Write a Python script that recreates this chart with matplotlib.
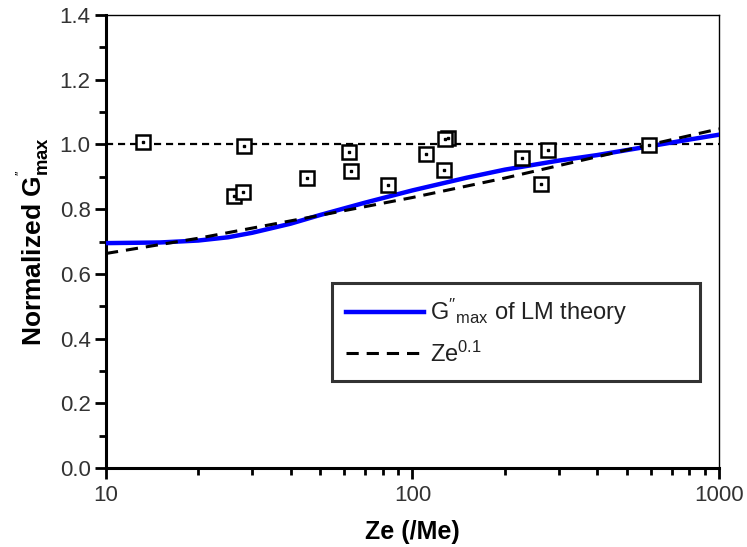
import matplotlib
matplotlib.use("Agg")
import matplotlib.pyplot as plt
from matplotlib.ticker import MultipleLocator, LogLocator, NullFormatter, FixedLocator, FixedFormatter

plt.rcParams['font.family'] = ['Liberation Sans', 'DejaVu Sans']
plt.rcParams['mathtext.fontset'] = 'custom'
plt.rcParams['mathtext.rm'] = 'Liberation Sans'
plt.rcParams['mathtext.it'] = 'Liberation Sans'
plt.rcParams['mathtext.bf'] = 'Liberation Sans:bold'

# Experimental data (squares)
data_x = [13.2, 26.2, 28.0, 28.2, 45.3, 62.1, 63.2, 83.0, 111, 131, 128, 127, 227, 262, 277, 593]
data_y = [1.008, 0.840, 0.854, 0.995, 0.895, 0.977, 0.919, 0.875, 0.970, 1.020, 1.017, 0.921, 0.959, 0.877, 0.983, 0.998]

# LM theory curve (blue)
lm_x = [10, 15, 20, 25, 30, 40, 50, 70, 100, 150, 200, 300, 400, 600, 800, 1000]
lm_y = [0.695, 0.697, 0.703, 0.713, 0.727, 0.755, 0.782, 0.820, 0.858, 0.897, 0.922, 0.950, 0.967, 0.995, 1.015, 1.030]

# Ze^0.1 curve (dashed)
ze_x = [10, 20, 50, 100, 200, 500, 1000]
ze_y = [0.663, 0.710, 0.781, 0.836, 0.896, 0.983, 1.048]

# Reference line
ref_x = [10, 1000]
ref_y = [1.0, 1.0]

fig = plt.figure(figsize=(7.47, 5.47), dpi=100)
ax = fig.add_axes([0.1419, 0.1444, 0.8206, 0.8282])

ax.plot(ref_x, ref_y, color='black', lw=1.6, ls=(0, (3.2, 2.2)), zorder=2)
ax.plot(lm_x, lm_y, color='#0000ff', lw=3.2, zorder=3,
        label=r"G$''_{\mathrm{max}}$ of LM theory")
ax.plot(ze_x, ze_y, color='black', lw=2.2, ls=(0, (4.0, 2.6)), zorder=4,
        label=r"Ze$^{0.1}$")
ax.plot(data_x, data_y, ls='none', marker='s', markersize=9.5, markerfacecolor='white',
        markeredgecolor='black', markeredgewidth=1.8, zorder=5)
ax.plot(data_x, data_y, ls='none', marker='s', markersize=1.8, color='black', zorder=6)

ax.set_xscale('log')
ax.set_xlim(10, 1000)
ax.set_ylim(0, 1.4)

ax.xaxis.set_major_locator(FixedLocator([10, 100, 1000]))
ax.xaxis.set_major_formatter(FixedFormatter(['10', '100', '1000']))
ax.xaxis.set_minor_locator(LogLocator(base=10, subs=range(2, 10)))
ax.xaxis.set_minor_formatter(NullFormatter())
ax.yaxis.set_major_locator(MultipleLocator(0.2))
ax.yaxis.set_minor_locator(MultipleLocator(0.1))
ax.yaxis.set_major_formatter(matplotlib.ticker.FuncFormatter(lambda v, p: f"{v:.1f}"))

ax.tick_params(axis='both', which='major', direction='out', length=8, width=2.0,
               labelsize=16, labelcolor='#333333', top=False, right=False)
ax.tick_params(axis='both', which='minor', direction='out', length=5, width=2.0,
               top=False, right=False)
ax.tick_params(axis='x', which='major', pad=4)
ax.tick_params(axis='y', which='major', pad=3)

for s in ['left', 'bottom']:
    ax.spines[s].set_linewidth(2.2)
for s in ['top', 'right']:
    ax.spines[s].set_linewidth(1.0)

ax.set_xlabel('Ze (/Me)', fontsize=18, fontweight='bold', labelpad=10)
ax.set_ylabel(r"Normalized G$^{''}_{\mathbf{max}}$", fontsize=19, fontweight='bold', labelpad=6)

leg = ax.legend(loc='upper left', bbox_to_anchor=(0.369, 0.199, 0.600, 0.210),
                mode='expand', borderaxespad=0,
                fontsize=17, handlelength=3.3, handletextpad=0.25, labelspacing=0.6,
                frameon=True, fancybox=False, edgecolor='black', borderpad=0.6)
leg.get_frame().set_linewidth(2.2)
for t in leg.get_texts():
    t.set_color('#222222')

fig.savefig('out.png', dpi=100)
